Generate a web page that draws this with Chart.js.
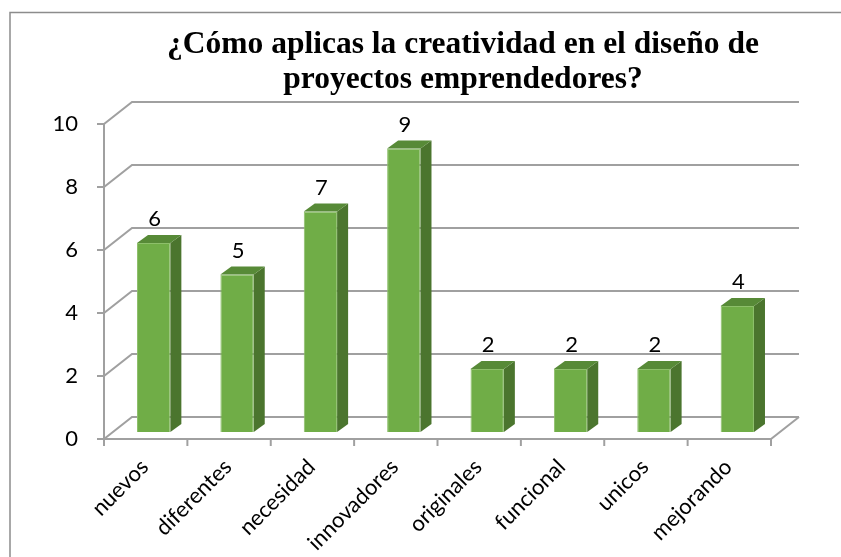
<!DOCTYPE html>
<html lang="es">
<head>
<meta charset="utf-8">
<title>Creatividad en proyectos emprendedores</title>
<script src="https://cdn.jsdelivr.net/npm/chart.js@4.4.1/dist/chart.umd.min.js"></script>
<style>
    html, body { margin: 0; padding: 0; background: #fff; }
    #wrap { width: 841px; height: 557px; }
</style>
</head>
<body>
<div id="wrap"><canvas id="chart" width="841" height="557"></canvas></div>
<script>
// datos del gráfico
const categories = ['nuevos', 'diferentes', 'necesidad', 'innovadores', 'originales', 'funcional', 'unicos', 'mejorando'];
const values = [6, 5, 7, 9, 2, 2, 2, 4];
const yTicks = [0, 2, 4, 6, 8, 10];
const titleLines = ['¿Cómo aplicas la creatividad en el diseño de', 'proyectos emprendedores?'];

// colores de las caras
const frontColor = '#70ad47';
const sideColor = '#4b752e';
const topColor = '#578a37';
const gridColor = '#a0a0a0';
const labelFont = { family: 'Lato', size: 22 };

// desplazamientos de la perspectiva (px)
const depth = { dx: 11, dy: -8 };   // profundidad de cada barra
const front = { dx: -8, dy: 7 };    // plano del eje frontal
const back = { dx: 20, dy: -15 };   // pared del fondo

const perspectivePlugin = {
    id: 'perspective',
    beforeDraw(chart) {
        const ctx = chart.ctx;
        ctx.save();
        ctx.fillStyle = '#fff';
        ctx.fillRect(0, 0, chart.width, chart.height);
        // borde exterior
        ctx.strokeStyle = '#8c8c8c';
        ctx.lineWidth = 1.5;
        ctx.beginPath();
        ctx.moveTo(10, chart.height);
        ctx.lineTo(10, 12.5);
        ctx.lineTo(chart.width, 12.5);
        ctx.stroke();
        // título
        ctx.fillStyle = '#000';
        ctx.font = 'bold 31.5px "Liberation Serif"';
        ctx.textAlign = 'center';
        ctx.textBaseline = 'alphabetic';
        titleLines.forEach((t, i) => ctx.fillText(t, 463, 53 + i * 35));
        ctx.restore();
    },
    beforeDatasetsDraw(chart) {
        const { ctx, chartArea: a, scales: { y } } = chart;
        ctx.save();
        ctx.strokeStyle = gridColor;
        ctx.lineWidth = 2;
        // líneas de cuadrícula: marca, diagonal y fondo
        yTicks.forEach(v => {
            const py = y.getPixelForValue(v);
            ctx.beginPath();
            ctx.moveTo(a.left + front.dx - 7, py + front.dy);
            ctx.lineTo(a.left + front.dx, py + front.dy);
            ctx.lineTo(a.left + back.dx, py + back.dy);
            ctx.lineTo(a.right + back.dx, py + back.dy);
            ctx.stroke();
        });
        const y0 = y.getPixelForValue(0);
        const yTop = y.getPixelForValue(yTicks[yTicks.length - 1]);
        // eje vertical
        ctx.beginPath();
        ctx.moveTo(a.left + front.dx, yTop + front.dy);
        ctx.lineTo(a.left + front.dx, y0 + front.dy);
        ctx.stroke();
        // borde frontal del piso
        ctx.beginPath();
        ctx.moveTo(a.left + front.dx, y0 + front.dy);
        ctx.lineTo(a.right + front.dx, y0 + front.dy);
        ctx.lineTo(a.right + back.dx, y0 + back.dy);
        ctx.stroke();
        // marcas de categorías
        const band = (a.right - a.left) / categories.length;
        for (let i = 0; i <= categories.length; i++) {
            const px = a.left + front.dx + i * band;
            ctx.beginPath();
            ctx.moveTo(px, y0 + front.dy);
            ctx.lineTo(px, y0 + front.dy + 7);
            ctx.stroke();
        }
        ctx.restore();
    },
    afterDatasetsDraw(chart) {
        const ctx = chart.ctx;
        const meta = chart.getDatasetMeta(0);
        ctx.save();
        meta.data.forEach((bar, i) => {
            const { x, y, width, base } = bar.getProps(['x', 'y', 'width', 'base'], true);
            const l = x - width / 2;
            const r = x + width / 2;
            // cara lateral
            ctx.fillStyle = sideColor;
            ctx.beginPath();
            ctx.moveTo(r, y);
            ctx.lineTo(r + depth.dx, y + depth.dy);
            ctx.lineTo(r + depth.dx, base + depth.dy);
            ctx.lineTo(r, base);
            ctx.closePath();
            ctx.fill();
            // cara superior
            ctx.fillStyle = topColor;
            ctx.beginPath();
            ctx.moveTo(l, y);
            ctx.lineTo(l + depth.dx, y + depth.dy);
            ctx.lineTo(r + depth.dx, y + depth.dy);
            ctx.lineTo(r, y);
            ctx.closePath();
            ctx.fill();
            // etiqueta de valor
            ctx.fillStyle = '#000';
            ctx.font = labelFont.size + 'px ' + labelFont.family;
            ctx.textAlign = 'center';
            ctx.textBaseline = 'alphabetic';
            ctx.fillText(String(values[i]), x + 1, y - 17);
        });
        ctx.restore();
    }
};

new Chart(document.getElementById('chart'), {
    type: 'bar',
    data: {
        labels: categories,
        datasets: [{
            data: values,
            backgroundColor: frontColor,
            borderColor: '#8dbf6a',
            borderWidth: 1,
            barPercentage: 0.4,
            categoryPercentage: 1
        }]
    },
    options: {
        responsive: false,
        animation: false,
        devicePixelRatio: 1,
        layout: { padding: { top: 117, right: 62, left: 0, bottom: 0 } },
        plugins: {
            legend: { display: false },
            title: { display: false },
            tooltip: { enabled: false }
        },
        scales: {
            x: {
                grid: { display: false, drawTicks: false },
                border: { display: false },
                ticks: {
                    color: '#000',
                    font: labelFont,
                    minRotation: 45,
                    maxRotation: 45,
                    autoSkip: false,
                    padding: 22,
                    labelOffset: -9
                },
                afterFit(s) { s.height = 125; }
            },
            y: {
                min: 0,
                max: 10,
                grid: { display: false, drawTicks: false },
                border: { display: false },
                ticks: {
                    color: '#000',
                    font: labelFont,
                    padding: 34,
                    labelOffset: 7
                },
                afterBuildTicks(s) { s.ticks = yTicks.map(v => ({ value: v })); },
                afterFit(s) { s.width = 112; }
            }
        }
    },
    plugins: [perspectivePlugin]
});
</script>
</body>
</html>
